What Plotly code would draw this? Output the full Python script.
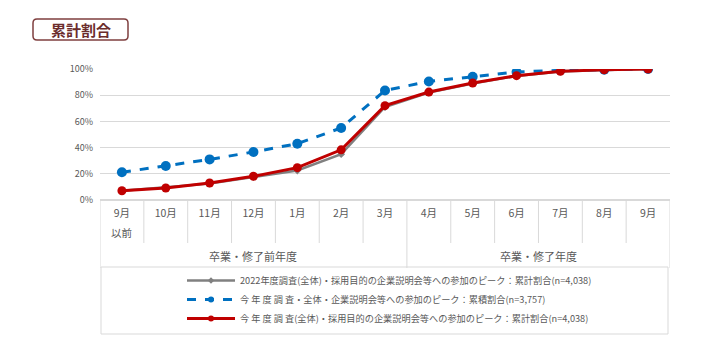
import plotly.graph_objects as go

months = ["9月", "10月", "11月", "12月", "1月", "2月", "3月", "4月", "5月", "6月", "7月", "8月", "9月"]
first_month_note = "以前"
groups = ["卒業・修了前年度", "卒業・修了年度"]
group_sizes = [7, 6]

gray_2022 = [7.0, 9.5, 12.5, 17.5, 22.5, 35.0, 71.0, 82.0, 89.0, 94.7, 98.0, 99.3, 100.0]
blue_now = [21.2, 26.0, 31.0, 36.7, 43.0, 55.0, 83.6, 90.5, 94.1, 97.7, 99.0, 99.4, 100.0]
red_now = [7.1, 9.2, 13.0, 18.1, 24.7, 38.3, 72.0, 82.4, 89.3, 94.9, 98.2, 99.4, 100.0]

names = [
    "2022年度調査(全体)・採用目的の企業説明会等への参加のピーク：累計割合(n=4,038)",
    "今 年 度 調 査・全体・企業説明会等への参加のピーク：累積割合(n=3,757)",
    "今 年 度 調 査(全体)・採用目的の企業説明会等への参加のピーク：累計割合(n=4,038)",
]

FONT = "Noto Sans CJK JP"
x = list(range(len(months)))

styles = [
    dict(line=dict(color="#808080", width=2.5), symbol="diamond", size=6, lsize=5),
    dict(line=dict(color="#0070C0", width=3, dash="dash"), symbol="circle", size=10, lsize=6),
    dict(line=dict(color="#C00000", width=3), symbol="circle", size=9, lsize=6),
]
series = [gray_2022, blue_now, red_now]

fig = go.Figure()
for name, ys, st in zip(names, series, styles):
    fig.add_trace(go.Scatter(x=x, y=ys, name=name, mode="lines+markers", showlegend=False,
                             line=st["line"],
                             marker=dict(symbol=st["symbol"], size=st["size"], color=st["line"]["color"])))
for i, (name, st) in enumerate(zip(names, styles)):
    fig.add_trace(go.Scatter(x=[None], y=[None], name=name, mode="lines+markers", legendgroup=f"g{i}",
                             line=st["line"],
                             marker=dict(symbol=st["symbol"], size=st["lsize"], color=st["line"]["color"])))

OFF = 8  # page body margin
W, H = 704, 359
L, R, T, B = 100 - OFF, 34 + OFF, 69 - OFF, 159 + OFF
pw, ph = W - L - R, H - T - B

def px_x(p):
    return (p - OFF - L) / pw

def px_y(p):
    return (H - B - (p - OFF)) / ph

shapes = []
n = len(months)
bounds = [i - 0.5 for i in range(n + 1)]
group_edges = [-0.5]
acc = -0.5
for s in group_sizes:
    acc += s
    group_edges.append(acc)
for b in bounds:
    full = any(abs(b - g) < 1e-9 for g in group_edges)
    shapes.append(dict(type="line", xref="x", yref="paper", x0=b, x1=b,
                       y0=0, y1=px_y(268 if full else 243),
                       line=dict(color="#D9D9D9", width=1)))
# title rounded box
x0, x1, y0, y1 = px_x(33), px_x(128), px_y(19), px_y(40)
rx, ry = 4 / pw, 4 / ph
path = (f"M {x0+rx},{y0} L {x1-rx},{y0} Q {x1},{y0} {x1},{y0-ry} L {x1},{y1+ry} Q {x1},{y1} {x1-rx},{y1} "
        f"L {x0+rx},{y1} Q {x0},{y1} {x0},{y1+ry} L {x0},{y0-ry} Q {x0},{y0} {x0+rx},{y0} Z")
shapes.append(dict(type="path", xref="paper", yref="paper", path=path,
                   line=dict(color="#7F3F3F", width=1.5), fillcolor="white"))
# legend box
shapes.append(dict(type="rect", xref="paper", yref="paper",
                   x0=px_x(101), x1=px_x(668), y0=px_y(267), y1=px_y(334),
                   line=dict(color="#D9D9D9", width=1)))

annotations = [dict(text="<b>累計割合</b>", xref="paper", yref="paper", x=(x0 + x1) / 2, y=(y0 + y1) / 2,
                    showarrow=False, font=dict(family=FONT, size=15, color="#6B2D2D"),
                    xanchor="center", yanchor="middle")]
annotations.append(dict(text=first_month_note, xref="x", yref="paper", x=0, y=px_y(232),
                        showarrow=False, font=dict(family=FONT, size=10.5, color="#595959"),
                        xanchor="center", yanchor="middle"))
start = -0.5
for g, s in zip(groups, group_sizes):
    annotations.append(dict(text=g, xref="x", yref="paper", x=start + s / 2, y=px_y(256),
                            showarrow=False, font=dict(family=FONT, size=11, color="#595959"),
                            xanchor="center", yanchor="middle"))
    start += s

fig.update_layout(
    width=W, height=H,
    margin=dict(l=L, r=R, t=T, b=B),
    paper_bgcolor="white", plot_bgcolor="white",
    font=dict(family=FONT, color="#595959"),
    shapes=shapes, annotations=annotations,
    showlegend=True,
    legend=dict(x=px_x(182), y=px_y(266), xanchor="left", yanchor="top",
                font=dict(family=FONT, size=9.2, color="#595959"), itemwidth=48,
                bgcolor="rgba(0,0,0,0)", tracegroupgap=11, traceorder="normal"),
    xaxis=dict(range=[-0.5, n - 0.5], tickvals=x, ticktext=months, showgrid=False,
               zeroline=False, showline=False, ticks="", ticklabelstandoff=5,
               tickfont=dict(family=FONT, size=10.5, color="#595959"), fixedrange=True),
    yaxis=dict(range=[0, 100], tickvals=[0, 20, 40, 60, 80, 100], ticktext=["0%", "20%", "40%", "60%", "80%", "100%"],
               showgrid=True, gridcolor="#D9D9D9", gridwidth=1, zeroline=True, zerolinecolor="#D9D9D9",
               showline=False, ticks="", tickfont=dict(family=FONT, size=9, color="#595959"), ticklabelstandoff=6),
)

fig.write_html("out.html")
